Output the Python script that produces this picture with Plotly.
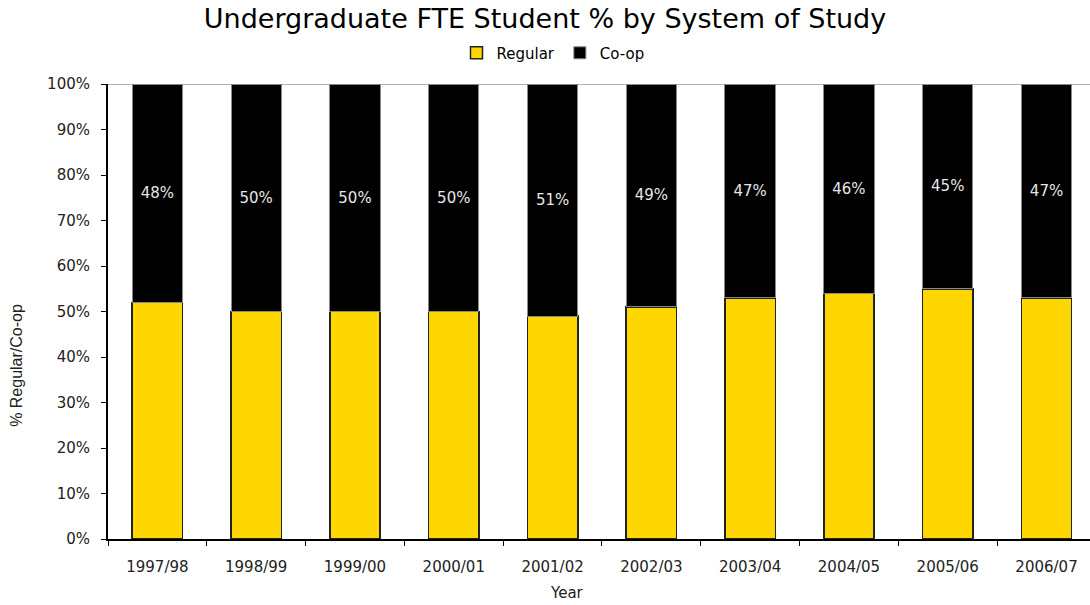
import plotly.graph_objects as go

years = ["1997/98", "1998/99", "1999/00", "2000/01", "2001/02",
         "2002/03", "2003/04", "2004/05", "2005/06", "2006/07"]
regular_pct = [52, 50, 50, 50, 49, 51, 53, 54, 55, 53]
coop_pct = [48, 50, 50, 50, 51, 49, 47, 46, 45, 47]
y_ticks = [0, 10, 20, 30, 40, 50, 60, 70, 80, 90, 100]

FONT = "DejaVu Sans"

fig = go.Figure()
fig.add_trace(go.Bar(
    x=years, y=regular_pct, name="Regular",
    marker=dict(color="#FFD700", line=dict(color="#222222", width=1.5)),
    hoverinfo="skip",
))
fig.add_trace(go.Bar(
    x=years, y=coop_pct, name="Co-op",
    marker=dict(color="#000000", line=dict(color="#888888", width=1)),
    text=[f"{v}%" for v in coop_pct],
    textposition="inside", insidetextanchor="middle", textangle=0,
    textfont=dict(family=FONT, size=15, color="#e6e6e6"),
    hoverinfo="skip",
))

# thin grey line along the 100% boundary
fig.add_shape(type="line", xref="paper", yref="y", x0=0, x1=1, y0=100, y1=100,
              line=dict(color="#999999", width=1.5), layer="below")

fig.add_annotation(text="% Regular/Co-op", xref="paper", yref="paper",
                   x=-0.093, y=0.382, xanchor="center", yanchor="middle",
                   textangle=-90, showarrow=False,
                   font=dict(family="Liberation Sans", size=16, color="#222222"))
fig.add_annotation(text="Year", xref="paper", yref="paper",
                   x=(567 - 108) / 982, y=-0.119, xanchor="center", yanchor="middle",
                   showarrow=False,
                   font=dict(family=FONT, size=15, color="#222222"))

fig.update_layout(
    width=1090, height=605,
    margin=dict(l=108, r=0, t=84, b=66),
    barmode="stack", bargap=0.49,
    paper_bgcolor="white", plot_bgcolor="white",
    title=dict(text="Undergraduate FTE Student % by System of Study",
               x=0.5, xanchor="center", y=0.97, yanchor="middle",
               font=dict(family=FONT, size=27, color="#000000")),
    legend=dict(orientation="h", x=(553 - 108) / 982, xanchor="center",
                y=1.068, yanchor="middle",
                font=dict(family=FONT, size=15, color="#000000"),
                itemwidth=30, traceorder="normal"),
    showlegend=True,
)

fig.update_xaxes(
    range=[-0.5, 9.44], showline=True, linecolor="#000000", linewidth=2,
    ticks="outside", tickson="boundaries", ticklen=5, tickcolor="#000000",
    tickfont=dict(family=FONT, size=15, color="#222222"),
    ticklabelstandoff=13, showgrid=False, fixedrange=True,
)
fig.update_yaxes(
    range=[0, 100], tickvals=y_ticks, ticktext=[f"{v}%" for v in y_ticks],
    showline=True, linecolor="#000000", linewidth=2,
    ticks="outside", ticklen=5, tickcolor="#000000",
    tickfont=dict(family=FONT, size=15, color="#222222"),
    ticklabelstandoff=8, showgrid=False, zeroline=False, fixedrange=True,
)

fig.write_html("out.html", config={"displayModeBar": False})
